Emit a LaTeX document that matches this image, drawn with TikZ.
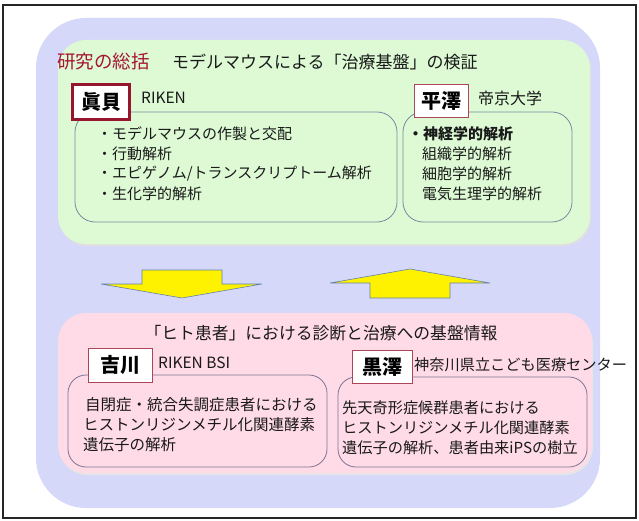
\documentclass[tikz,border=0pt]{standalone}
\usepackage{fontspec}
\setmainfont{Noto Sans CJK JP}
\definecolor{lav}{RGB}{214,216,250}
\definecolor{grn}{RGB}{221,250,213}
\definecolor{pnk}{RGB}{255,219,231}
\definecolor{gline}{RGB}{115,140,160}
\definecolor{pline}{RGB}{125,115,145}
\definecolor{dred}{RGB}{150,22,45}
\definecolor{tred}{RGB}{165,20,50}
\definecolor{txt}{RGB}{25,25,25}
\definecolor{arrline}{RGB}{95,130,175}
\tikzset{
  txtnode/.style={anchor=west,inner sep=0pt,text=txt},
  innerG/.style={draw=gline,line width=0.8pt,fill=grn,rounded corners=20pt},
  innerP/.style={draw=pline,line width=0.8pt,fill=pnk,rounded corners=18pt},
  namebox/.style={draw=dred,fill=white,line width=0.8pt,inner sep=0pt,text=black,font=\fontsize{20}{22}\selectfont\bfseries},
  yarrow/.style={fill=yellow,draw=arrline,line width=0.6pt,line join=miter}
}
\begin{document}
\begin{tikzpicture}[x=1pt,y=-1pt]
\useasboundingbox (0,0) rectangle (639,521);
\fill[white] (0,0) rectangle (639,521);
% frame
\draw[line width=2pt,black!85] (3,5) rectangle (636,518);
% lavender
\fill[lav,rounded corners=50pt] (36,18) rectangle (600,508);
% green area
\fill[black!12,rounded corners=28pt] (59,42) rectangle (591,246);
\fill[grn,rounded corners=28pt] (58,40) rectangle (590,244);
\node[txtnode,text=tred,font=\fontsize{18.5}{20}\selectfont] (t1) at (57,62) {研究の総括};
\node[txtnode,font=\fontsize{17}{20}\selectfont] (t2) at (172,62) {モデルマウスによる「治療基盤」の検証};
% left inner
\draw[innerG] (75,112) rectangle (397,222);
\node[namebox,line width=2.8pt,minimum width=57pt,minimum height=35pt] (shinkai) at (101,102) {眞貝};
\node[txtnode,font=\fontsize{15.5}{18}\selectfont] (riken) at (141,98) {RIKEN};
\node[txtnode,font=\fontsize{15}{17}\selectfont] (l1) at (97,134) {・モデルマウスの作製と交配};
\node[txtnode,font=\fontsize{15}{17}\selectfont] (l2) at (97,154) {・行動解析};
\node[txtnode,font=\fontsize{15}{17}\selectfont] (l3) at (97,174) {・エピゲノム/トランスクリプトーム解析};
\node[txtnode,font=\fontsize{15}{17}\selectfont] (l4) at (97,194) {・生化学的解析};
% right inner
\draw[innerG] (403,112) rectangle (572,222);
\node[namebox,draw=dred!80,line width=0.9pt,minimum width=54pt,minimum height=33pt] (hirasawa) at (441,101) {平澤};
\node[txtnode,font=\fontsize{16}{18}\selectfont] (teikyo) at (478,98) {帝京大学};
\node[txtnode,font=\fontsize{15}{17}\selectfont\bfseries] (r1) at (408,134) {・神経学的解析};
\node[txtnode,font=\fontsize{15}{17}\selectfont] (r2) at (422,154) {組織学的解析};
\node[txtnode,font=\fontsize{15}{17}\selectfont] (r3) at (422,174) {細胞学的解析};
\node[txtnode,font=\fontsize{15}{17}\selectfont] (r4) at (422,194) {電気生理学的解析};
% arrows
\draw[yarrow] (142,270) -- (222,270) -- (222,284) -- (262,284) -- (182,298) -- (101,284) -- (142,284) -- cycle;
\draw[yarrow] (410,269) -- (490,283) -- (450,283) -- (450,298) -- (370,298) -- (370,283) -- (330,283) -- cycle;
% pink area
\fill[black!10,rounded corners=28pt] (59,315) rectangle (593,475);
\fill[pnk,rounded corners=28pt] (58,313) rectangle (592,473);
\node[anchor=center,inner sep=0pt,text=txt,font=\fontsize{16.8}{19}\selectfont] (pt) at (321,333) {「ヒト患者」における診断と治療への基盤情報};
% left pink inner
\draw[innerP] (68,375) rectangle (327,467);
\node[namebox,draw=dred!80,line width=0.9pt,minimum width=64pt,minimum height=34pt] (yoshikawa) at (120,365) {吉川};
\node[txtnode,font=\fontsize{15.5}{18}\selectfont] (bsi) at (158,363) {RIKEN BSI};
\node[txtnode,font=\fontsize{15.5}{18}\selectfont] (p1) at (85,405) {自閉症・統合失調症患者における};
\node[txtnode,font=\fontsize{15.5}{18}\selectfont] (p2) at (83,425) {ヒストンリジンメチル化関連酵素};
\node[txtnode,font=\fontsize{15.5}{18}\selectfont] (p3) at (83,445) {遺伝子の解析};
% right pink inner
\draw[innerP] (338,377) rectangle (587,467);
\node[namebox,draw=dred!80,line width=0.9pt,minimum width=60pt,minimum height=33pt] (kurosawa) at (382,367) {黒澤};
\node[txtnode,font=\fontsize{15.2}{18}\selectfont] (kana) at (414,365) {神奈川県立こども医療センター};
\node[txtnode,font=\fontsize{15.2}{18}\selectfont] (q1) at (342,408) {先天奇形症候群患者における};
\node[txtnode,font=\fontsize{15.2}{18}\selectfont] (q2) at (342,428) {ヒストンリジンメチル化関連酵素};
\node[txtnode,font=\fontsize{15.2}{18}\selectfont] (q3) at (342,448) {遺伝子の解析、患者由来iPSの樹立};
\end{tikzpicture}
\end{document}
